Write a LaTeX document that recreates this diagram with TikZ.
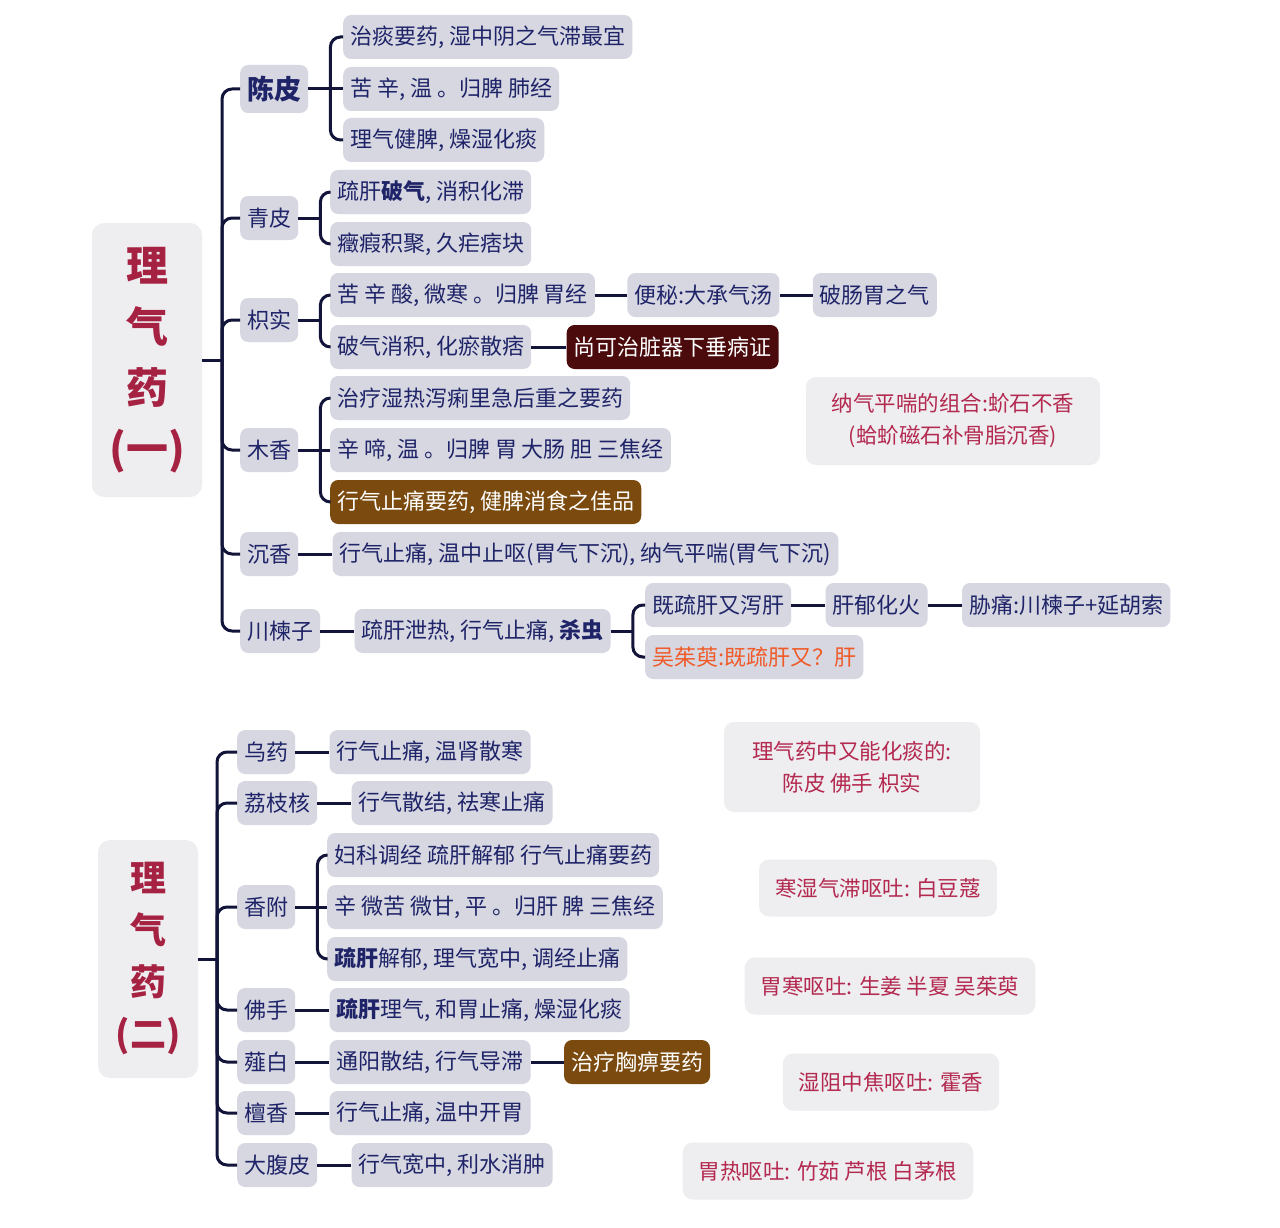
\documentclass[tikz,border=0pt]{standalone}
\usepackage{fontspec}
\setmainfont{Noto Sans CJK SC}
\usepackage{xcolor}
\usepackage{tikz}
\usetikzlibrary{positioning}
\definecolor{LQBox}{HTML}{D6D7E1}
\definecolor{LQInk}{HTML}{1F2468}
\definecolor{LQLine}{HTML}{12143A}
\definecolor{LQMaroon}{HTML}{4B0A0C}
\definecolor{LQBrown}{HTML}{7A4A0E}
\definecolor{LQNote}{HTML}{EEEDF0}
\definecolor{LQRed}{HTML}{B3294F}
\definecolor{LQTitle}{HTML}{A62243}
\definecolor{LQOrange}{HTML}{F05A28}

\begin{document}
\begin{tikzpicture}[
  x=1pt, y=-1pt,
  node distance=34pt,
  herb/.style={rounded corners=8pt, fill=LQBox, text=LQInk, inner xsep=7pt, inner ysep=0pt, minimum height=44pt, font=\fontsize{22}{26}\selectfont},
  lead/.style={herb, font=\fontsize{27}{32}\selectfont\bfseries, minimum height=48pt},
  warn/.style={herb, fill=LQMaroon, text=white},
  gold/.style={herb, fill=LQBrown, text=white},
  note/.style={rounded corners=10pt, fill=LQNote, text=LQRed, inner xsep=16pt, minimum height=57pt, align=center, font=\fontsize{21.5}{32}\selectfont},
  title/.style={rounded corners=12pt, fill=LQNote, text=LQTitle, align=center},
  link/.style={draw=LQLine, line width=3pt, rounded corners=10pt}
]
\useasboundingbox (0,0) rectangle (1280,1228);
\fill[white] (0,0) rectangle (1280,1228);

% 理气药（一）
\node[title, minimum width=110pt, minimum height=274pt, font=\fontsize{42}{61}\selectfont\bfseries] (title1) at (147,360) {理\\气\\药\\(一)};
\coordinate (hub1) at (222,360);

\node[lead, anchor=west] (chenpi) at (240,89) {陈皮};
\node[herb, anchor=west] (cp1) at (343,37) {治痰要药, 湿中阴之气滞最宜};
\node[herb, anchor=west] (cp2) at (343,89) {苦 辛, 温 。归脾 肺经};
\node[herb, anchor=west] (cp3) at (343,140) {理气健脾, 燥湿化痰};

\node[herb, anchor=west] (qingpi) at (240,218) {青皮};
\node[herb, anchor=west] (qp1) at (330,192) {疏肝{\bfseries 破气}, 消积化滞};
\node[herb, anchor=west] (qp2) at (330,244) {癥瘕积聚, 久疟痞块};

\node[herb, anchor=west] (zhishi) at (240,320) {枳实};
\node[herb, anchor=west] (zs1) at (330,295) {苦 辛 酸, 微寒 。归脾 胃经};
\node[herb, right=32pt of zs1] (zs1a) {便秘:大承气汤};
\node[herb, right=33pt of zs1a] (zs1b) {破肠胃之气};
\node[herb, anchor=west] (zs2) at (330,347) {破气消积, 化瘀散痞};
\node[warn, right=35pt of zs2] (zs2a) {尚可治脏器下垂病证};

\node[herb, anchor=west] (muxiang) at (240,450) {木香};
\node[herb, anchor=west] (mx1) at (330,398) {治疗湿热泻痢里急后重之要药};
\node[herb, anchor=west] (mx2) at (330,450) {辛 啼, 温 。归脾 胃 大肠 胆 三焦经};
\node[gold, anchor=west] (mx3) at (330,502) {行气止痛要药, 健脾消食之佳品};

\node[herb, anchor=west] (chenxiang) at (240,554) {沉香};
\node[herb, right=of chenxiang] (cx1) {行气止痛, 温中止呕(胃气下沉), 纳气平喘(胃气下沉)};

\node[herb, anchor=west] (chuanlian) at (240,631) {川楝子};
\node[herb, right=of chuanlian] (cl1) {疏肝泄热, 行气止痛, {\bfseries 杀虫}};
\node[herb, anchor=west] (cl2) at (645,605) {既疏肝又泻肝};
\node[herb, right=of cl2] (cl2a) {肝郁化火};
\node[herb, right=of cl2a] (cl2b) {胁痛:川楝子+延胡索};
\node[herb, anchor=west, text=LQOrange] (cl3) at (645,657) {吴茱萸:既疏肝又？肝};

\node[note, minimum width=294pt, minimum height=88pt] (naqi) at (953,421) {纳气平喘的组合:蚧石不香\\(蛤蚧磁石补骨脂沉香)};

\draw[link] (title1.east) -- (hub1);
\draw[link] (hub1) |- (chenpi.west);
\draw[link] (hub1) |- (qingpi.west);
\draw[link] (hub1) |- (zhishi.west);
\draw[link] (hub1) |- (muxiang.west);
\draw[link] (hub1) |- (chenxiang.west);
\draw[link] (hub1) |- (chuanlian.west);

\draw[link] (chenpi.east) -- ++(22,0) coordinate (cpfork);
\draw[link] (cpfork) |- (cp1.west);
\draw[link] (cpfork) -- (cp2.west);
\draw[link] (cpfork) |- (cp3.west);
\draw[link] (qingpi.east) -- ++(22,0) coordinate (qpfork);
\draw[link] (qpfork) |- (qp1.west);
\draw[link] (qpfork) |- (qp2.west);
\draw[link] (zhishi.east) -- ++(22,0) coordinate (zsfork);
\draw[link] (zsfork) |- (zs1.west);
\draw[link] (zsfork) |- (zs2.west);
\draw[link] (zs1) -- (zs1a);
\draw[link] (zs1a) -- (zs1b);
\draw[link] (zs2) -- (zs2a);
\draw[link] (muxiang.east) -- ++(22,0) coordinate (mxfork);
\draw[link] (mxfork) |- (mx1.west);
\draw[link] (mxfork) -- (mx2.west);
\draw[link] (mxfork) |- (mx3.west);
\draw[link] (chenxiang) -- (cx1);
\draw[link] (chuanlian) -- (cl1);
\draw[link] (cl1.east) -- ++(22,0) coordinate (clfork);
\draw[link] (clfork) |- (cl2.west);
\draw[link] (clfork) |- (cl3.west);
\draw[link] (cl2) -- (cl2a);
\draw[link] (cl2a) -- (cl2b);

% 理气药（二）
\node[title, minimum width=100pt, minimum height=238pt, font=\fontsize{36}{52}\selectfont\bfseries] (title2) at (148,959) {理\\气\\药\\(二)};
\coordinate (hub2) at (217,959);

\node[herb, anchor=west] (wuyao) at (237,752) {乌药};
\node[herb, right=of wuyao] (wy1) {行气止痛, 温肾散寒};
\node[herb, anchor=west] (lizhi) at (237,803) {荔枝核};
\node[herb, right=of lizhi] (lz1) {行气散结, 祛寒止痛};
\node[herb, anchor=west] (xiangfu) at (237,907) {香附};
\node[herb, anchor=west] (xf1) at (327,855) {妇科调经 疏肝解郁 行气止痛要药};
\node[herb, anchor=west] (xf2) at (327,907) {辛 微苦 微甘, 平 。归肝 脾 三焦经};
\node[herb, anchor=west] (xf3) at (327,959) {{\bfseries 疏肝}解郁, 理气宽中, 调经止痛};
\node[herb, anchor=west] (foshou) at (237,1010) {佛手};
\node[herb, right=of foshou] (fs1) {{\bfseries 疏肝}理气, 和胃止痛, 燥湿化痰};
\node[herb, anchor=west] (xiebai) at (237,1062) {薤白};
\node[herb, right=of xiebai] (xb1) {通阳散结, 行气导滞};
\node[gold, right=33pt of xb1] (xb2) {治疗胸痹要药};
\node[herb, anchor=west] (tanxiang) at (237,1113) {檀香};
\node[herb, right=of tanxiang] (tx1) {行气止痛, 温中开胃};
\node[herb, anchor=west] (dafupi) at (237,1165) {大腹皮};
\node[herb, right=of dafupi] (dfp1) {行气宽中, 利水消肿};

\node[note, minimum width=256pt, minimum height=90pt] (huatan) at (852,767) {理气药中又能化痰的:\\陈皮 佛手 枳实};
\node[note, minimum width=233pt] (hanshi) at (878,888) {寒湿气滞呕吐: 白豆蔻};
\node[note, minimum width=289pt] (weihan) at (890,986) {胃寒呕吐: 生姜 半夏 吴茱萸};
\node[note, minimum width=212pt] (shizu) at (891,1082) {湿阻中焦呕吐: 霍香};
\node[note, minimum width=289pt] (weire) at (828,1171) {胃热呕吐: 竹茹 芦根 白茅根};

\draw[link] (title2.east) -- (hub2);
\draw[link] (hub2) |- (wuyao.west);
\draw[link] (hub2) |- (lizhi.west);
\draw[link] (hub2) |- (xiangfu.west);
\draw[link] (hub2) |- (foshou.west);
\draw[link] (hub2) |- (xiebai.west);
\draw[link] (hub2) |- (tanxiang.west);
\draw[link] (hub2) |- (dafupi.west);

\draw[link] (wuyao) -- (wy1);
\draw[link] (lizhi) -- (lz1);
\draw[link] (xiangfu.east) -- ++(22,0) coordinate (xffork);
\draw[link] (xffork) |- (xf1.west);
\draw[link] (xffork) -- (xf2.west);
\draw[link] (xffork) |- (xf3.west);
\draw[link] (foshou) -- (fs1);
\draw[link] (xiebai) -- (xb1);
\draw[link] (xb1) -- (xb2);
\draw[link] (tanxiang) -- (tx1);
\draw[link] (dafupi) -- (dfp1);
\end{tikzpicture}
\end{document}
